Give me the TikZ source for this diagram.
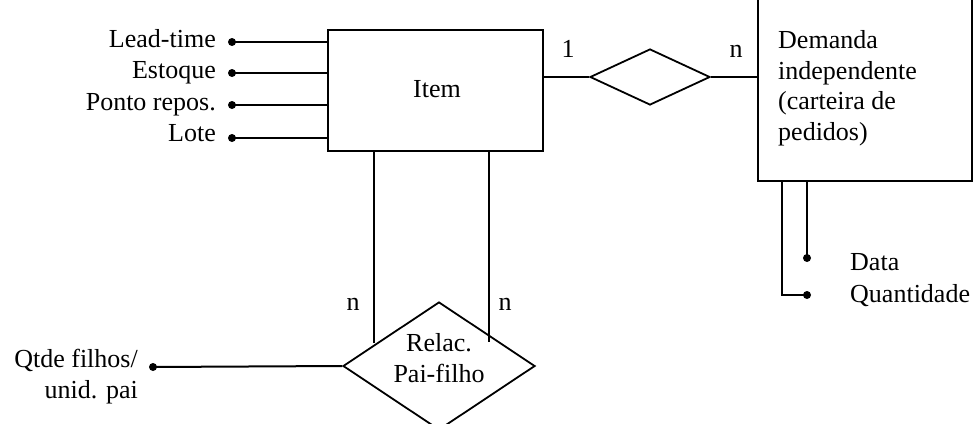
\documentclass[tikz,border=0pt]{standalone}
\usepackage{fontspec}
\setmainfont{Liberation Serif}
\usetikzlibrary{shapes.geometric}
\begin{document}
\begin{tikzpicture}[x=1pt,y=-1pt,
  every node/.style={font=\fontsize{26}{30.5}\selectfont, inner sep=0pt},
  ln/.style={line width=2pt},
  dotc/.style={circle, fill=black, minimum size=8pt, inner sep=0pt},
  lbl/.style={anchor=base east},
  lbll/.style={anchor=base west},
  entity/.style={draw, line width=2pt, rectangle},
  rel/.style={draw, line width=1.8pt, diamond, inner sep=0pt}]
\useasboundingbox (0,0) rectangle (974,423);
\clip (0,0) rectangle (974,423);
% Item entity
\node[entity, minimum width=215pt, minimum height=121pt] (item) at (435.5,90.5) {};
\node[anchor=base] (itemt) at (437,97) {Item};
% attributes of Item
\node[dotc] (d1) at (232,42) {};
\node[dotc] (d2) at (232,73) {};
\node[dotc] (d3) at (232,105) {};
\node[dotc] (d4) at (232,138) {};
\node[lbl] (l1) at (216,47) {Lead-time};
\node[lbl] (l2) at (216,78) {Estoque};
\node[lbl] (l3) at (216,110) {Ponto repos.};
\node[lbl] (l4) at (216,141) {Lote};
\foreach \d in {d1,d2,d3,d4} \draw[ln] (\d.center) -- (\d.center -| item.west);
% relationship Item - Demanda
\node[rel, minimum width=120pt, minimum height=56pt] (r1) at (650,77) {};
\node[entity, minimum width=214pt, minimum height=186pt] (dem) at (865,88) {};
\node[anchor=base west, align=left] (demt) at (778,140) {Demanda\\independente\\(carteira de\\pedidos)};
\draw[ln] (r1.west) -- (r1.west -| item.east);
\draw[ln] (r1.east) -- (r1.east -| dem.west);
\node[anchor=base] (c1) at (568,57) {1};
\node[anchor=base] (c2) at (736,57) {n};
% attributes of Demanda
\node[dotc] (dd) at (807,258) {};
\node[dotc] (dq) at (807,295) {};
\coordinate (q1) at (782,295);
\draw[ln] (dem.south -| dd) -- (dd.center);
\draw[ln] (dem.south -| q1) -- (q1) -- (dq.center);
\node[lbll] (ldd) at (850,270) {Data};
\node[lbll] (ldq) at (850,302) {Quantidade};
% relationship Pai-filho
\node[rel, minimum width=192pt, minimum height=128pt] (r2) at (439,366) {};
\node[anchor=base, align=center] (r2t) at (439,382) {Relac.\\Pai-filho};
\coordinate (p1) at (374,343);
\coordinate (p2) at (489,342);
\draw[ln] (item.south -| p1) -- (p1);
\draw[ln] (item.south -| p2) -- (p2);
\node[anchor=base] (n1) at (353,310) {n};
\node[anchor=base] (n2) at (505,310) {n};
% attribute of relationship
\node[dotc] (dqf) at (153,367) {};
\draw[ln] (dqf.center) -- (r2.west);
\node[lbl, align=right] (lqf) at (138,398) {Qtde filhos/\\unid. pai};
\end{tikzpicture}
\end{document}
